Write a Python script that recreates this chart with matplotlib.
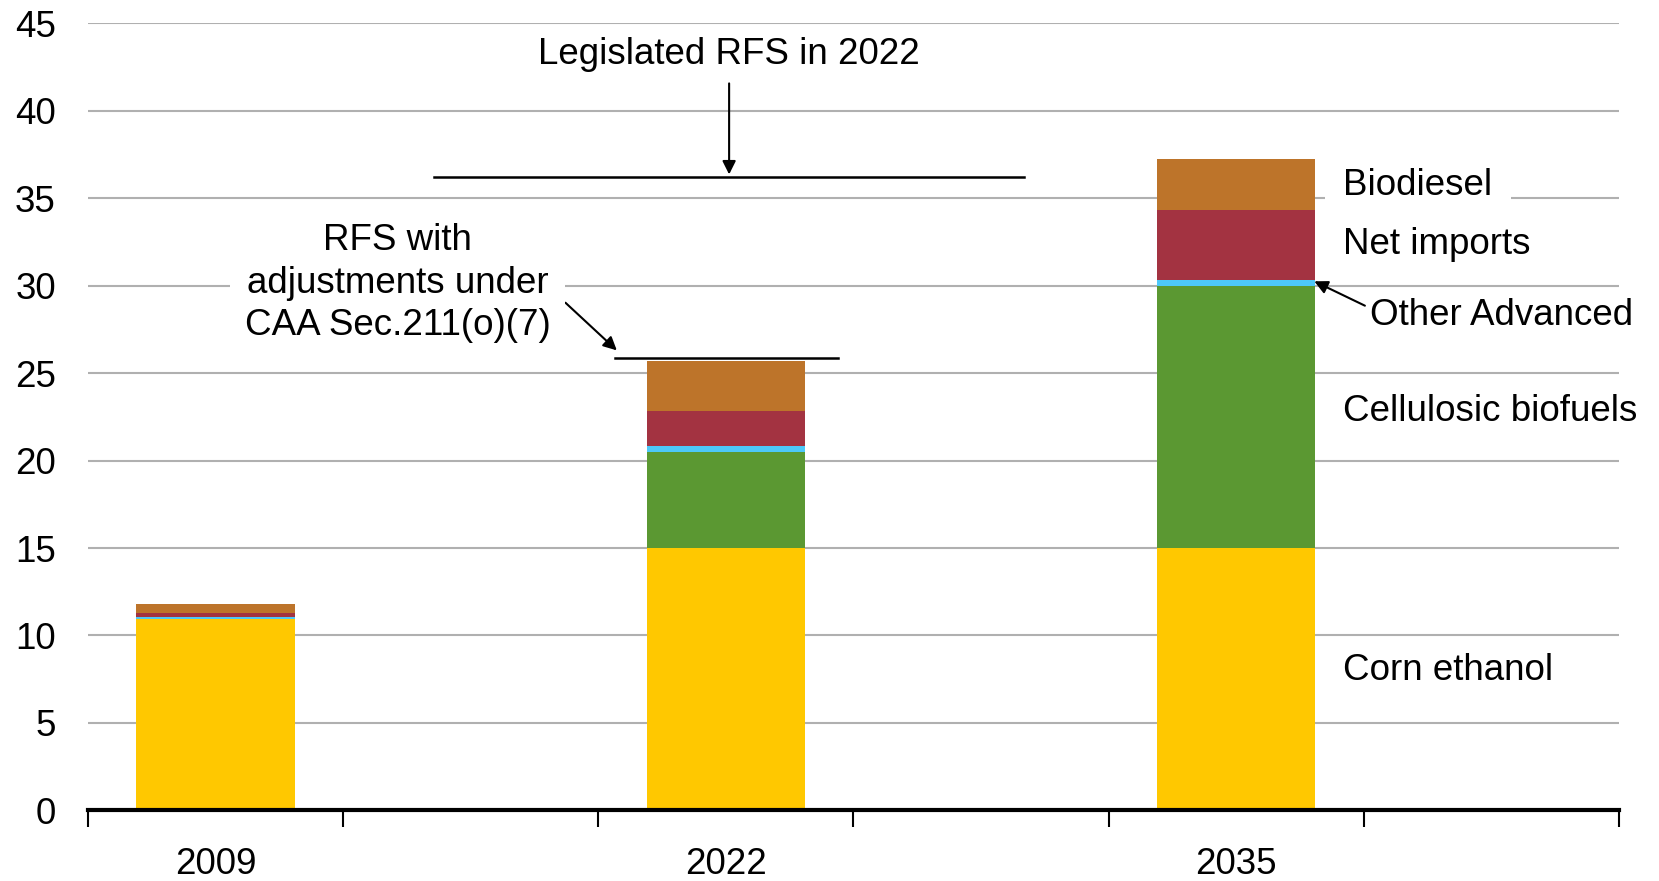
import matplotlib.pyplot as plt
import numpy as np

plt.rcParams['font.family'] = ['Liberation Sans', 'DejaVu Sans']

years = ["2009", "2022", "2035"]
series = ["Corn ethanol", "Cellulosic biofuels", "Other Advanced", "Net imports", "Biodiesel"]
corn = [10.93, 15.0, 15.0]
cellulosic = [0.0, 5.5, 15.0]
other_adv = [0.13, 0.35, 0.34]
net_imports = [0.23, 2.0, 4.0]
biodiesel = [0.52, 2.86, 2.92]
colors = ["#FFC800", "#5B9832", "#4DC8F9", "#A33341", "#BD742A"]

rfs_legislated = 36.23
rfs_adjusted = 25.88

FS = 26.5

fig = plt.figure(figsize=(16.59, 8.81), dpi=100)
ax = fig.add_axes([87.8/1659, 1 - 810.4/881, (1619 - 87.8)/1659, (810.4 - 23.3)/881])

pos = np.arange(len(years)) * 2
bottom = np.zeros(len(years))
for vals, col in zip([corn, cellulosic, other_adv, net_imports, biodiesel], colors):
    ax.bar(pos, vals, 0.62, bottom=bottom, color=col, zorder=3)
    bottom += np.array(vals)

ax.set_xlim(-0.5, 5.5)
ax.set_ylim(0, 45)
ax.set_yticks(range(0, 46, 5))
ax.yaxis.grid(True, color="#B0B0B0", lw=1.5, zorder=0)
ax.tick_params(axis='y', length=0, labelsize=FS, pad=23)
ax.set_xticks(pos)
ax.set_xticklabels(years)
ax.set_xticks(np.arange(-0.5, 5.6, 1), minor=True)
ax.tick_params(axis='x', which='major', length=0, labelsize=FS, pad=26)
ax.tick_params(axis='x', which='minor', length=12, width=1.5, direction='out')
for s in ['left', 'right', 'top']:
    ax.spines[s].set_visible(False)
ax.spines['bottom'].set_linewidth(3)
ax.spines['bottom'].set_zorder(4)

# RFS lines
ax.plot([0.856, 3.17], [rfs_legislated, rfs_legislated], color='black', lw=1.8, zorder=4)
ax.plot([1.565, 2.44], [rfs_adjusted, rfs_adjusted], color='black', lw=1.8, zorder=4)

ax.annotate("Legislated RFS in 2022", xy=(2.013, 36.36), xytext=(2.013, 43.2),
            ha='center', va='center', fontsize=FS,
            arrowprops=dict(arrowstyle='-|>', color='black', lw=1.5, mutation_scale=20, shrinkA=6, shrinkB=0))
ax.annotate("RFS with\nadjustments under\nCAA Sec.211(o)(7)", xy=(1.573, 26.3), xytext=(0.715, 30.13),
            ha='center', va='center', fontsize=FS, linespacing=1.28,
            bbox=dict(boxstyle='square,pad=0.4', fc='white', ec='none'),
            arrowprops=dict(arrowstyle='-|>', color='black', lw=1.5, mutation_scale=20,
                            shrinkA=0, shrinkB=0, relpos=(0.98, 0.5)), zorder=5)

# series labels
ax.text(4.42, 35.75, "Biodiesel", fontsize=FS, va='center', ha='left',
        bbox=dict(boxstyle='square,pad=0.5', fc='white', ec='none'), zorder=5)
ax.text(4.42, 32.37, "Net imports", fontsize=FS, va='center', ha='left', zorder=5)
ax.annotate("Other Advanced", xy=(4.306, 30.25), xytext=(4.525, 28.31),
            ha='left', va='center', fontsize=FS,
            arrowprops=dict(arrowstyle='-|>', color='black', lw=1.5, mutation_scale=20,
                            shrinkA=2, shrinkB=0, relpos=(0.0, 0.7)), zorder=5)
ax.text(4.42, 22.8, "Cellulosic biofuels", fontsize=FS, va='center', ha='left', zorder=5)
ax.text(4.42, 7.99, "Corn ethanol", fontsize=FS, va='center', ha='left', zorder=5)

fig.savefig("out.png", dpi=100)
